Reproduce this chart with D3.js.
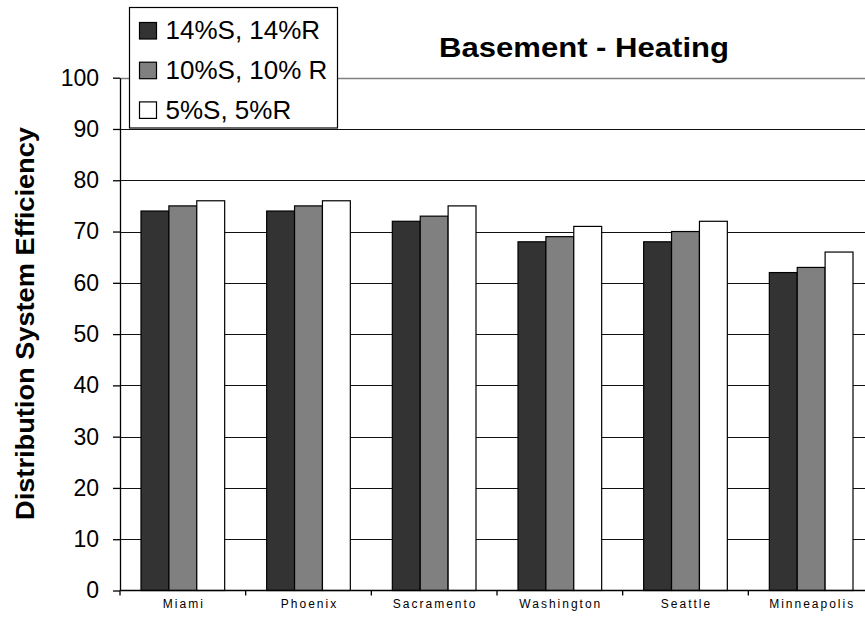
<!DOCTYPE html>
<html lang="en">
<head>
<meta charset="utf-8">
<script src="https://d3js.org/d3.v7.min.js"></script>
<style>
  body { margin: 0; background: #fff; }
  text { font-family: Arial, "Liberation Sans", sans-serif; }
</style>
</head>
<body>
<div id="my_dataviz"></div>
<script>
// data
var cities = ["Miami", "Phoenix", "Sacramento", "Washington", "Seattle", "Minneapolis"];
var seriesNames = ["14%S, 14%R", "10%S, 10% R", "5%S, 5%R"];
var s14 = [74, 74, 72, 68, 68, 62];
var s10 = [75, 75, 73, 69, 70, 63];
var s5  = [76, 76, 75, 71, 72, 66];
var yTicks = [0, 10, 20, 30, 40, 50, 60, 70, 80, 90, 100];
var colors = ["#333333", "#808080", "#ffffff"];

var W = 865, H = 619;
// plot box (right edge runs past the window, like the original)
var plotLeft = 120, plotRight = 874, plotTop = 77.7, plotBottom = 590.5;

var svg = d3.select("#my_dataviz")
  .append("svg")
  .attr("width", W)
  .attr("height", H);

// scales
var x0 = d3.scaleBand().domain(cities).range([plotLeft, plotRight]);
var x1 = d3.scaleBand().domain(seriesNames).range([21, x0.bandwidth() - 21]);
var y = d3.scaleLinear().domain([0, 100]).range([plotBottom, plotTop]);

var rows = cities.map(function(c, i) {
  return { city: c, values: [s14[i], s10[i], s5[i]] };
});

// gridlines
svg.append("g")
  .selectAll("line")
  .data(yTicks.filter(function(d) { return d > 0; }))
  .enter()
  .append("line")
    .attr("x1", plotLeft)
    .attr("x2", plotRight)
    .attr("y1", function(d) { return Math.round(y(d)) + 0.5; })
    .attr("y2", function(d) { return Math.round(y(d)) + 0.5; })
    .attr("stroke", function(d) { return d === 100 ? "#808080" : "#111"; })
    .attr("stroke-width", function(d) { return d === 100 ? 1.5 : 1.2; });

// bars
var groups = svg.append("g")
  .selectAll("g")
  .data(rows)
  .enter()
  .append("g")
    .attr("transform", function(d) { return "translate(" + x0(d.city) + ",0)"; });

groups.selectAll("rect")
  .data(function(d) { return d.values.map(function(v, j) { return { key: seriesNames[j], value: v, j: j }; }); })
  .enter()
  .append("rect")
    .attr("x", function(d) { return x1(d.key); })
    .attr("y", function(d) { return y(d.value); })
    .attr("width", x1.bandwidth())
    .attr("height", function(d) { return plotBottom - y(d.value); })
    .attr("fill", function(d) { return colors[d.j]; })
    .attr("stroke", "#000")
    .attr("stroke-width", 1.2);

// Y axis
var yAxis = svg.append("g")
  .attr("transform", "translate(" + plotLeft + ",0)")
  .call(d3.axisLeft(y).tickValues(yTicks).tickSize(7).tickSizeOuter(0).tickPadding(14));
yAxis.selectAll("text").style("font-size", "23px").attr("fill", "#000");
yAxis.selectAll("line, path").attr("stroke", "#000").attr("stroke-width", 1.3);

// X axis: line, boundary ticks, labels
svg.append("line")
  .attr("x1", plotLeft).attr("x2", plotRight)
  .attr("y1", plotBottom).attr("y2", plotBottom)
  .attr("stroke", "#000").attr("stroke-width", 1.3);

var bounds = cities.map(function(c) { return x0(c); }).concat([plotRight]);
svg.append("g")
  .selectAll("line")
  .data(bounds)
  .enter()
  .append("line")
    .attr("x1", function(d) { return d; })
    .attr("x2", function(d) { return d; })
    .attr("y1", plotBottom)
    .attr("y2", plotBottom + 5)
    .attr("stroke", "#000")
    .attr("stroke-width", 1.3);

svg.append("g")
  .selectAll("text")
  .data(cities)
  .enter()
  .append("text")
    .attr("x", function(d) { return x0(d) + x0.bandwidth() / 2 + 1; })
    .attr("y", 607.5)
    .attr("text-anchor", "middle")
    .style("font-size", "12px")
    .style("letter-spacing", "2px")
    .text(function(d) { return d; });

// Y axis label
svg.append("text")
  .attr("transform", "translate(33.5," + ((127 + 520) / 2) + ") rotate(-90)")
  .attr("text-anchor", "middle")
  .style("font-size", "25px")
  .style("font-weight", "bold")
  .attr("textLength", 393)
  .attr("lengthAdjust", "spacingAndGlyphs")
  .text("Distribution System Efficiency");

// title
svg.append("text")
  .attr("x", 584)
  .attr("y", 56.7)
  .attr("text-anchor", "middle")
  .style("font-size", "27px")
  .style("font-weight", "bold")
  .attr("textLength", 290)
  .attr("lengthAdjust", "spacingAndGlyphs")
  .text("Basement - Heating");

// legend
var legend = svg.append("g");
legend.append("rect")
  .attr("x", 129.5).attr("y", 7.5)
  .attr("width", 208).attr("height", 120.5)
  .attr("fill", "#fff")
  .attr("stroke", "#000")
  .attr("stroke-width", 1.2);

var items = legend.selectAll("g.item")
  .data(seriesNames)
  .enter()
  .append("g")
    .attr("class", "item")
    .attr("transform", function(d, i) { return "translate(0," + (i * 39.7) + ")"; });

items.append("rect")
  .attr("x", 139.5).attr("y", 22.5)
  .attr("width", 17).attr("height", 16.5)
  .attr("fill", function(d, i) { return colors[i]; })
  .attr("stroke", "#000")
  .attr("stroke-width", 1.2);

items.append("text")
  .attr("x", 165.5)
  .attr("y", 39.3)
  .style("font-size", "26px")
  .text(function(d) { return d; });
</script>
</body>
</html>
